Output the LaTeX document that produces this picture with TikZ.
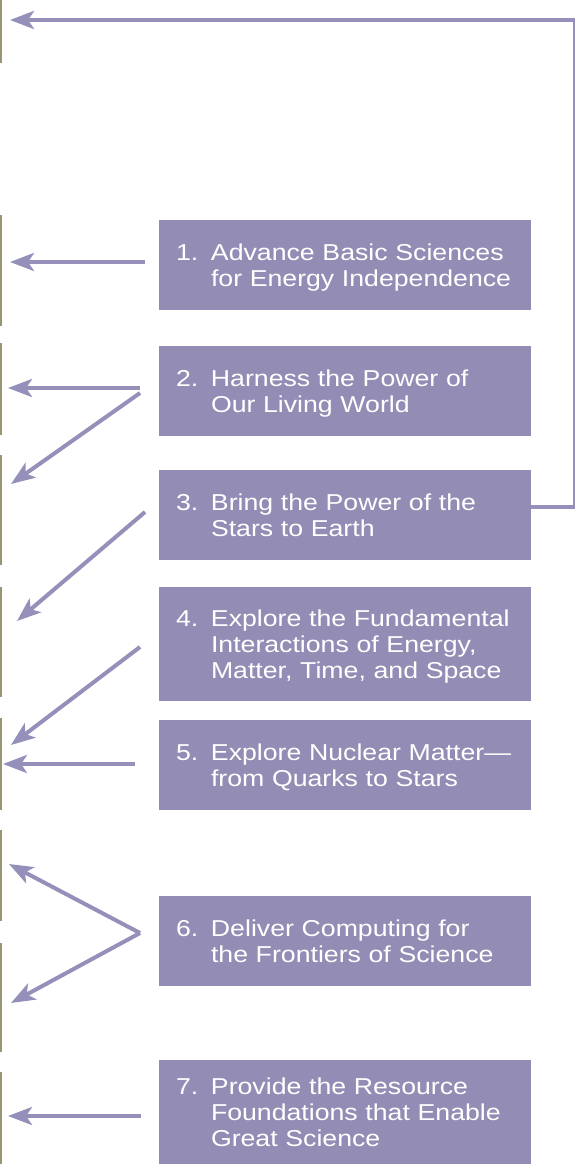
\documentclass[tikz,border=0pt]{standalone}
\usepackage{fontspec}
\setmainfont[FakeStretch=1.16]{Liberation Sans}
\usepackage{xcolor}
\definecolor{goalpurple}{RGB}{147, 141, 181}
\definecolor{arrowpurple}{RGB}{148, 144, 185}
\definecolor{edgeolive}{RGB}{154, 149, 117}
\usepackage{tikz}
\usetikzlibrary{
    arrows.meta,
    positioning
}
\tikzstyle{goal} = [
    rectangle,
    minimum width=372pt,
    minimum height=90pt,
    text width=338pt,
    inner xsep=17pt,
    outer sep=0pt,
    align=left,
    fill=goalpurple,
    text=white,
    font=\fontsize{23}{26}\selectfont
]
\tikzstyle{arrow} = [
    line width=4pt,
    draw=arrowpurple,
    -{Stealth[length=24pt,width=18pt,inset=6pt]}
]
\tikzstyle{edge} = [
    line width=1.5pt,
    draw=edgeolive
]
\newcommand{\goaltext}[2]{\rule{0pt}{25pt}\makebox[35pt][l]{#1}%
    \begin{tabular}[t]{@{}l@{}}#2\end{tabular}}

\begin{document}
\begin{tikzpicture}[
	x=1pt, y=-1pt
]
\useasboundingbox (0,0) rectangle (575,1164);

\node (g1) [goal] at (345,265)
    {\goaltext{1.}{Advance Basic Sciences\\for Energy Independence}};
\node (g2) [goal, below=36pt of g1]
    {\goaltext{2.}{Harness the Power of\\Our Living World}};
\node (g3) [goal, below=34pt of g2]
    {\goaltext{3.}{Bring the Power of the\\Stars to Earth}};
\node (g4) [goal, below=27pt of g3, minimum height=114pt]
    {\goaltext{4.}{Explore the Fundamental\\Interactions of Energy,\\Matter, Time, and Space}};
\node (g5) [goal, below=19pt of g4]
    {\goaltext{5.}{Explore Nuclear Matter---\\from Quarks to Stars}};
\node (g6) [goal, below=86pt of g5]
    {\goaltext{6.}{Deliver Computing for\\the Frontiers of Science}};
\node (g7) [goal, below=74pt of g6, minimum height=104pt]
    {\goaltext{7.}{Provide the Resource\\Foundations that Enable\\Great Science}};

% arrow tips at the left edge
\coordinate (t0) at (10,20);
\coordinate (c0) at (574.5,20);
\coordinate (t1) at (10,262);
\coordinate (t2a) at (8,388);
\coordinate (t2b) at (11,484);
\coordinate (t3) at (17,621);
\coordinate (t4) at (11,745);
\coordinate (t5) at (3,764);
\coordinate (t6a) at (9,864);
\coordinate (t6b) at (11,1003);
\coordinate (t7) at (8,1116);

\draw [arrow] ([shift={(-14,-3)}]g1.west) -- (t1);
\draw [arrow] ([shift={(-19,-3)}]g2.west) -- (t2a);
\draw [arrow] ([shift={(-19,2)}]g2.west) -- (t2b);
\draw [arrow] ([shift={(-14,-3)}]g3.west) -- (t3);
\draw [arrow] ([shift={(-19,3)}]g4.west) -- (t4);
\draw [arrow] ([shift={(-24,-1)}]g5.west) -- (t5);
\draw [arrow] ([shift={(-19,-8)}]g6.west) -- (t6a);
\draw [arrow] ([shift={(-19,-8)}]g6.west) -- (t6b);
\draw [arrow] ([shift={(-18,4)}]g7.west) -- (t7);

% loop back to the top
\draw [arrow] ([yshift=8pt]g3.east) -| (c0) -- (t0);

% edges of the neighbouring column
\foreach \a/\b in {0/63, 215/326, 343/435, 455/565, 587/697,
                   718/810, 830/921, 943/1052, 1072/1164}
    \draw [edge] (0.75,\a) -- (0.75,\b);

\end{tikzpicture}
\end{document}
